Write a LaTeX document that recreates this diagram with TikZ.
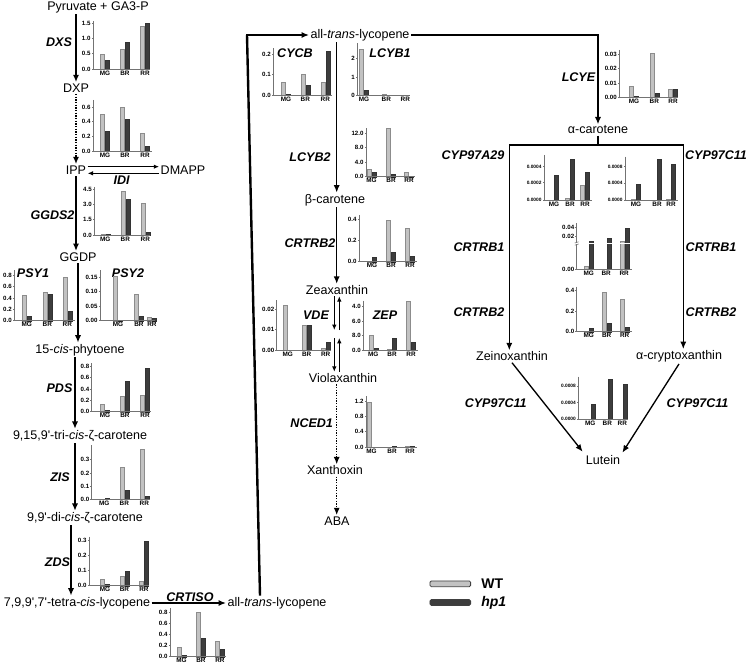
\documentclass[tikz,border=0pt]{standalone}
\usepackage{fontspec}
\setmainfont{Liberation Sans}
\usetikzlibrary{arrows.meta,calc,positioning}
\definecolor{wtgray}{gray}{0.76}
\definecolor{hpgray}{gray}{0.24}
\tikzstyle{compound}=[inner sep=1pt, font=\fontsize{9.4}{11}\selectfont]
\tikzstyle{gene}    =[inner sep=0pt, font=\fontsize{9.4}{11}\selectfont\bfseries\itshape]
\tikzstyle{react}   =[-{Latex[length=5.5pt,width=4.6pt]}, line width=1pt]
\tikzstyle{dotreact}=[react, densely dotted]
\tikzstyle{eqarrow} =[-{Latex[length=4pt,width=3.4pt]}, line width=0.8pt]
\tikzstyle{axisline}=[draw=black!55, line width=0.45pt]
\tikzstyle{wtbar}   =[fill=wtgray, draw=black!45, line width=0.2pt]
\tikzstyle{hpbar}   =[fill=hpgray, draw=black!80, line width=0.2pt]
\tikzstyle{ticklab} =[anchor=east, inner sep=0.5pt,
                      font=\fontsize{4.6}{5}\selectfont\bfseries]
\tikzstyle{grplab}  =[anchor=north, inner sep=0.5pt,
                      font=\fontsize{4.8}{5}\selectfont\bfseries]
\tikzstyle{smallticks}=[ticklab/.append style={font=\fontsize{3.6}{4}\selectfont\bfseries}]
\tikzstyle{legbox}  =[draw=black!75, rounded corners=1pt, minimum width=30.5pt,
                      minimum height=4.3pt, inner sep=0pt, line width=0.6pt]

% expression chart: [opts]{axis x}{base y}{axis height}{axis length}{ticks h/label}{bars c/wt/hp/group}
\newcommand{\expchart}[7][]{%
  \begin{scope}[shift={(#2,#3)}, yscale=-1, #1]
    \foreach \c/\w/\h/\g in {#7} {
      \draw[wtbar] (\c-4.5,0) rectangle (\c-0.5,\w);
      \draw[hpbar] (\c+0.5,0) rectangle (\c+4.5,\h);
      \node[grplab] at (\c,-0.8) {\g};
    }
    \draw[axisline] (0,#4) -- (0,0) -- (#5,0);
    \foreach \t/\l in {#6} {
      \draw[axisline] (0,\t) -- (-1.3,\t);
      \node[ticklab] at (-1.6,\t) {\l};
    }
  \end{scope}}

\begin{document}
\begin{tikzpicture}[x=0.75pt, y=-0.75pt]
  \useasboundingbox (0,0) rectangle (751,667);

  % compounds
  \node[compound] (pyr)   at (98,7)      {Pyruvate + GA3-P};
  \node[compound] (dxp)   at (76,88)     {DXP};
  \node[compound] (ipp)   at (76,170)    {IPP};
  \node[compound] (dmapp) at (183,170)   {DMAPP};
  \node[compound] (ggdp)  at (78,257)    {GGDP};
  \node[compound] (phyt)  at (80,350)    {15-\textit{cis}-phytoene};
  \node[compound] (tri)   at (80,436)    {9,15,9\textquotesingle-tri-\textit{cis}-ζ-carotene};
  \node[compound] (dicis) at (85,518)    {9,9\textquotesingle-di-\textit{cis}-ζ-carotene};
  \node[compound] (tetra) at (77,603)    {7,9,9\textquotesingle,7\textquotesingle-tetra-\textit{cis}-lycopene};
  \node[compound] (lycb)  at (277,603)   {all-\textit{trans}-lycopene};
  \node[compound] (lyct)  at (360,35)    {all-\textit{trans}-lycopene};
  \node[compound] (bcar)  at (335,200)   {β-carotene};
  \node[compound] (zea)   at (337,290)   {Zeaxanthin};
  \node[compound] (viola) at (343,378)   {Violaxanthin};
  \node[compound] (xanth) at (335,470.5) {Xanthoxin};
  \node[compound] (aba)   at (337,521)   {ABA};
  \node[compound] (acar)  at (598,130)   {α-carotene};
  \node[compound] (zein)  at (512,356.5) {Zeinoxanthin};
  \node[compound] (acry)  at (679,356.5) {α-cryptoxanthin};
  \node[compound] (lut)   at (603,460)   {Lutein};

  % genes
  \node[gene] (gDXS)    at (59,41.7)    {DXS};
  \node[gene] (gIDI)    at (121.7,180)  {IDI};
  \node[gene] (gGGDS)   at (52.5,215)   {GGDS2};
  \node[gene] (gPSYa)   at (33,273)     {PSY1};
  \node[gene] (gPSYb)   at (128,273)    {PSY2};
  \node[gene] (gPDS)    at (59.5,388.3) {PDS};
  \node[gene] (gZIS)    at (60,476.7)   {ZIS};
  \node[gene] (gZDS)    at (57.5,561.7) {ZDS};
  \node[gene] (gCRTISO) at (190,596.7)  {CRTISO};
  \node[gene] (gCYCB)   at (295,53)     {CYCB};
  \node[gene] (gLCYBa)  at (390,53)     {LCYB1};
  \node[gene] (gLCYBb)  at (310,156.7)  {LCYB2};
  \node[gene] (gBCHb)   at (310,243.3)  {CRTRB2};
  \node[gene] (gVDE)    at (316,315)    {VDE};
  \node[gene] (gZEP)    at (385,315)    {ZEP};
  \node[gene] (gNCED)   at (311.7,423.3){NCED1};
  \node[gene] (gLCYE)   at (578.5,77)   {LCYE};
  \node[gene] (gCYPa)   at (473,155)    {CYP97A29};
  \node[gene] (gCYPc)   at (716,155)    {CYP97C11};
  \node[gene] (gBCHl)   at (479,247)    {CRTRB1};
  \node[gene] (gBCHr)   at (711,247)    {CRTRB1};
  \node[gene] (gBCHbl)  at (479,312)    {CRTRB2};
  \node[gene] (gBCHbr)  at (711,312)    {CRTRB2};
  \node[gene] (gCYPl)   at (495.7,402.7){CYP97C11};
  \node[gene] (gCYPr)   at (697.5,402.7){CYP97C11};

  % left branch
  \draw[react] (dxp.north |- pyr.south) -- (dxp.north);
  \draw[dotreact] (dxp.south) -- (ipp.north);
  \draw[eqarrow] ([yshift=2.5pt]ipp.east) -- ([yshift=2.5pt]dmapp.west);
  \draw[eqarrow] ([yshift=-2.5pt]dmapp.west) -- ([yshift=-2.5pt]ipp.east);
  \draw[react] (ipp.south) -- (ipp.south |- ggdp.north);
  \draw[react] (ggdp.south) -- (ggdp.south |- phyt.north);
  \draw[react] (75,0 |- phyt.south) -- (75,0 |- tri.north);
  \draw[react] (75,0 |- tri.south) -- (75,0 |- dicis.north);
  \draw[react] (71,0 |- dicis.south) -- (71,0 |- tetra.north);
  \draw[react] (tetra.east) -- (lycb.west);

  % back up to the top
  \draw[line width=1.8pt] (260,0 |- lycb.north) -- (247,0 |- lyct.west) coordinate (turn);
  \draw[react] ([xshift=-0.6pt]turn) -- (lyct.west);

  % beta branch
  \draw[react] (336.7,0 |- lyct.south) -- (336.7,0 |- bcar.north);
  \draw[react] (336.7,0 |- bcar.south) -- (336.7,0 |- zea.north);
  \coordinate (antu) at (337,330);
  \coordinate (antl) at (337,338);
  \draw[eqarrow] (334.3,0 |- zea.south) -- (334.3,0 |- antu);
  \draw[eqarrow] (339.3,0 |- antu) -- (339.3,0 |- zea.south);
  \draw[eqarrow] (334.3,0 |- antl) -- (334.3,0 |- viola.north);
  \draw[eqarrow] (339.3,0 |- viola.north) -- (339.3,0 |- antl);
  \draw[dotreact] (336.7,0 |- viola.south) -- (336.7,0 |- xanth.north);
  \draw[dotreact] (336.7,0 |- xanth.south) -- (336.7,0 |- aba.north);

  % alpha branch
  \draw[react] (lyct.east) -| (acar.north);
  \coordinate (fork) at (598,145);
  \draw[line width=1pt] (acar.south) -- (fork);
  \draw[react] (fork) -| (509.3,0 |- zein.north);
  \draw[react] (fork) -| (683.3,0 |- acry.north);
  \draw[react, shorten >=2pt] (zein.south) -- (lut.north west);
  \draw[react, shorten >=1pt] (acry.south) -- (lut.north east);

  % charts
  \expchart{93}{69}{48}{57}{0/0.0,15.3/0.5,30.6/1.0,45.9/1.5}
    {12/15/9/MG,32/20/26.5/BR,52/43/46/RR}
  \expchart{93}{151}{51}{59}{0/0.0,14.7/0.2,29.4/0.4,44.1/0.6}
    {12/37/20/MG,32/44/32/BR,52/17.5/4.5/RR}
  \expchart{94.3}{235}{48}{56}{0/0.0,15.3/1.5,30.6/3.0,45.9/4.5}
    {11/0.5/0.5/MG,31/43.8/35.7/BR,51/31.6/3/RR}
  \expchart{14.3}{320.7}{50.7}{61}{0/0.0,11.4/0.2,22.8/0.4,34.2/0.6,45.6/0.8}
    {12.5/26/4.5/MG,33/29/27/BR,53/43.8/10/RR}
  \expchart{100}{320.7}{50.7}{55}{0/0.00,14.5/0.05,29/0.10,43.5/0.15}
    {18/45/0.6/MG,39/27/5/BR,52/3.5/3/RR}
  \expchart{91.7}{411.7}{48.7}{59}{0/0.0,11.4/0.2,22.8/0.4,34.2/0.6,45.6/0.8}
    {13.3/8/1.7/MG,33.3/15.4/30.8/BR,53.3/16.5/43.3/RR}
  \expchart{91.7}{499.3}{54}{58}{0/0.0,13.2/0.1,26.4/0.2,39.6/0.3}
    {12.6/0.3/0.7/MG,32.6/31.7/9.2/BR,52.6/50/3.3/RR}
  \expchart{89}{585.7}{49}{60}{0/0.0,15.2/0.1,30.4/0.2,45.6/0.3}
    {16/7/2/MG,35.5/10/14.5/BR,55/5/45/RR}
  \expchart{170}{656.7}{48.4}{56}{0/0.0,11.1/0.2,22.2/0.4,33.3/0.6,44.4/0.8}
    {11.5/9.4/1.7/MG,31/44.4/18.3/BR,50/15.5/7.2/RR}
  \expchart{273.3}{95}{46.7}{58.4}{0/0.0,20.3/0.1,40.6/0.2}
    {12.7/12.6/0.6/MG,32/21.3/9.7/BR,52/13.2/43.6/RR}
  \begin{scope}
    \clip (340,30) rectangle (409.5,110);
    \expchart{357.3}{95.5}{52.2}{55}{0/0,18.5/1,37/2}
      {6.7/46/5/MG,29/1/0.3/BR,48/0.6/0.3/RR}
  \end{scope}
  \expchart{366}{176.7}{48.5}{49}{0/0.0,14.5/4.0,29/8.0,43.5/12.0}
    {5.5/7.3/4.8/MG,25/48.3/2.2/BR,43/4.8/0.7/RR}
  \expchart{359}{261.7}{46.7}{57.7}{0/0.0,21.2/0.2,42.4/0.4}
    {13/0.3/4.3/MG,32/42/9.7/BR,51/34/5.4/RR}
  \expchart{276.7}{350}{50}{54}{0/0.00,20.5/0.01,41/0.02}
    {11/45/0.3/MG,30/24.6/24.6/BR,49/1.6/7.4/RR}
  \expchart{363.3}{350}{49.5}{55}{0/0.0,15/8.0,28.3/6.0,43.3/4.0}
    {10/15/1.7/MG,28.7/1/12.3/BR,47.7/49.3/7.7/RR}
  \expchart{366}{447.3}{51.3}{50.7}{0/0.0,15.6/0.4,30.6/0.8,45.6/1.2}
    {5.5/45/0.3/MG,26/0.3/1/BR,44/0.8/0.8/RR}
  \expchart{619.3}{97.3}{47.3}{58.7}{0/0.00,14.4/0.01,28.8/0.02,43.2/0.03}
    {14.7/11.5/0.7/MG,35/44.6/4.3/BR,53.7/8.6/8.6/RR}
  \expchart[smallticks]{544}{200}{45}{48}{0/0.0000,17.3/0.0002,33.3/0.0004}
    {10/0.3/24.5/MG,26/1.5/41/BR,41/14.7/27.7/RR}
  \expchart[smallticks]{625}{200}{43.3}{53}{0/0.0000,16.7/0.0004,33.3/0.0008}
    {11/0.5/15.5/MG,32/0.3/41/BR,46/0.5/36/RR}
  \expchart{576.7}{269.3}{46}{55}{0/0.00,33.3/0.02,42/0.04}
    {12/3.5/28/MG,29.5/0/31/BR,47.5/28/41/RR}
  \fill[white] (575.5,242.6) rectangle (633,244.4);
  \draw[axisline] (574.8,243) -- (578.6,241.8);
  \draw[axisline] (574.8,245.2) -- (578.6,244);
  \expchart{576.7}{331.7}{45}{55}{0/0.0,20.5/0.2,41/0.4}
    {12/0.3/3.6/MG,30/40/8.7/BR,48/32.8/5/RR}
  \expchart[smallticks]{578.3}{419.3}{42.6}{50}{0/0.0000,16.7/0.0004,33.3/0.0008}
    {12/0.3/15/MG,29/0.3/40/BR,44/0.3/35.5/RR}

  % legend
  \node[legbox, fill=wtgray] (wtkey) at (450.3,583.8) {};
  \node[legbox, fill=hpgray] (hpkey) at (450.3,602.5) {};
  \node[anchor=west, inner sep=0pt, font=\fontsize{10.5}{12}\selectfont\bfseries,
        right=7.5pt of wtkey] (wtlab) {WT};
  \node[anchor=west, inner sep=0pt, font=\fontsize{10.5}{12}\selectfont\bfseries\itshape,
        right=7.5pt of hpkey] (hplab) {hp1};
\end{tikzpicture}
\end{document}
